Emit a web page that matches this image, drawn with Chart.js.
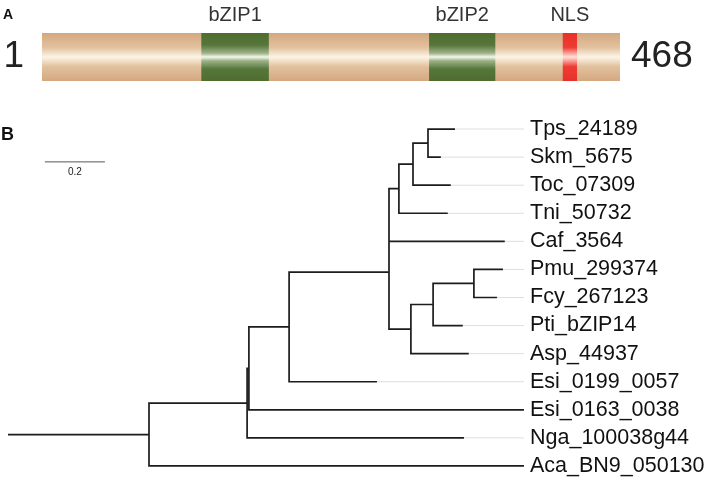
<!DOCTYPE html>
<html>
<head>
<meta charset="utf-8">
<script src="https://cdn.jsdelivr.net/npm/chart.js@4.4.1/dist/chart.umd.min.js"></script>
<style>
  html, body { margin: 0; padding: 0; background: #fff; }
  body { width: 709px; height: 480px; overflow: hidden; position: relative; }
  canvas { position: absolute; left: 0; }
  #domainChart { top: 0; }
  #treeChart { top: 100px; }
</style>
</head>
<body>
<canvas id="domainChart" width="709" height="100"></canvas>
<canvas id="treeChart" width="709" height="380"></canvas>
<script>
// Panel A: protein with domains (residue positions)
const residueStart = 1;
const proteinLength = 468;
const domainNames = ['bZIP1', 'bZIP2', 'NLS'];
const domainStarts = [130, 314, 422];
const domainEnds = [184, 367, 433];

// Panel B: tree, tips in drawing order (top to bottom)
const tipNames = ['Tps_24189', 'Skm_5675', 'Toc_07309', 'Tni_50732', 'Caf_3564', 'Pmu_299374',
  'Fcy_267123', 'Pti_bZIP14', 'Asp_44937', 'Esi_0199_0057', 'Esi_0163_0038', 'Nga_100038g44', 'Aca_BN9_050130'];
const tipParents = ['V', 'V', 'U', 'T', 'Q', 'F', 'F', 'E', 'D', 'N1', 'A', 'B', 'root'];
const tipLengths = [0.087, 0.04, 0.123, 0.16, 0.383, 0.094, 0.074, 0.096, 0.19, 0.29, 0.914, 0.72, 1.247];
// internal nodes, parents listed before children
const nodeIds = ['root', 'B', 'A', 'N1', 'P', 'Q', 'T', 'U', 'V', 'D', 'E', 'F'];
const nodeParents = [null, 'root', 'B', 'A', 'N1', 'P', 'Q', 'T', 'U', 'P', 'D', 'E'];
const nodeLengths = [0.47, 0.327, 0.006, 0.134, 0.333, 0, 0.033, 0.047, 0.05, 0.073, 0.074, 0.136];
const scaleBarLength = 0.2;

// styles
const labelFont = "'Liberation Sans', Arial, sans-serif";
const treeFont = "'Liberation Sans', Arial, sans-serif";
const tanStops = [[0, '#d3a880'], [0.3, '#e2c19e'], [0.5, '#fcf4e6'], [0.7, '#e2c19e'], [1, '#d3a880']];
const greenStops = [[0, '#506d2f'], [0.25, '#56763a'], [0.42, '#9db287'], [0.5, '#f5f7ee'], [0.58, '#9db287'], [0.75, '#56763a'], [1, '#506d2f']];
const redStops = [[0, '#e8302a'], [0.3, '#ee3d33'], [0.5, '#ffe0d9'], [0.7, '#ee3d33'], [1, '#e8302a']];
const domainStops = [greenStops, greenStops, redStops];

function bandGradient(chart, stops) {
    const area = chart.chartArea;
    if (!area) return stops[0][1];
    const g = chart.ctx.createLinearGradient(0, area.top, 0, area.bottom);
    stops.forEach(s => g.addColorStop(s[0], s[1]));
    return g;
}

function noPad(axis) {
    axis.paddingTop = 0; axis.paddingBottom = 0;
    axis.paddingLeft = 0; axis.paddingRight = 0;
}

const panelLetter = {
    id: 'panelLetter',
    afterDraw(chart, args, opts) {
        const ctx = chart.ctx;
        ctx.save();
        ctx.fillStyle = '#111';
        ctx.font = 'bold ' + opts.size + 'px ' + treeFont;
        ctx.textBaseline = 'middle';
        ctx.fillText(opts.text, opts.x, opts.y);
        ctx.restore();
    }
};

const bars = domainNames.map((name, i) => ({
    label: name,
    data: [[domainStarts[i], domainEnds[i]]],
    backgroundColor: c => bandGradient(c.chart, domainStops[i]),
    order: 0
}));
bars.push({
    label: 'protein',
    data: [[residueStart, proteinLength]],
    backgroundColor: c => bandGradient(c.chart, tanStops),
    order: 1
});
bars.forEach(b => {
    b.grouped = false;
    b.barPercentage = 1;
    b.categoryPercentage = 1;
    b.borderWidth = 0;
});

new Chart(document.getElementById('domainChart'), {
    type: 'bar',
    data: { labels: [String(residueStart)], datasets: bars },
    options: {
        indexAxis: 'y',
        responsive: false,
        animation: false,
        events: [],
        layout: { padding: { top: 0, bottom: 19, left: 0, right: 0 } },
        plugins: {
            legend: { display: false },
            tooltip: { enabled: false },
            panelLetter: { text: 'A', x: 3, y: 15, size: 14 }
        },
        scales: {
            x: {
                type: 'linear',
                position: 'top',
                min: residueStart,
                max: proteinLength,
                grid: { display: false, drawTicks: false },
                border: { display: false },
                afterBuildTicks: axis => {
                    axis.ticks = domainStarts.map((s, i) => ({ value: (s + domainEnds[i]) / 2 }));
                },
                afterFit: axis => { axis.height = 33; noPad(axis); },
                ticks: {
                    autoSkip: false,
                    maxRotation: 0,
                    padding: 6,
                    color: '#333',
                    font: { family: labelFont, size: 20 },
                    callback: (v, i) => domainNames[i]
                }
            },
            y: {
                type: 'category',
                position: 'left',
                offset: true,
                grid: { display: false, drawTicks: false },
                border: { display: false },
                afterFit: axis => { axis.width = 42; noPad(axis); },
                ticks: { padding: 18, color: '#222', font: { family: labelFont, size: 37 } }
            },
            y2: {
                type: 'category',
                position: 'right',
                labels: [String(proteinLength)],
                offset: true,
                grid: { display: false, drawTicks: false },
                border: { display: false },
                afterFit: axis => { axis.width = 89; noPad(axis); },
                ticks: { padding: 11, color: '#222', font: { family: labelFont, size: 37 } }
            }
        }
    },
    plugins: [panelLetter]
});

// tree layout from the arrays
const depth = {};
const row = {};
nodeIds.forEach((id, i) => {
    depth[id] = (nodeParents[i] ? depth[nodeParents[i]] : 0) + nodeLengths[i];
});
const tipDepths = tipNames.map((n, i) => depth[tipParents[i]] + tipLengths[i]);

function childRows(id) {
    const rows = [];
    tipParents.forEach((p, t) => { if (p === id) rows.push(t); });
    nodeParents.forEach((p, k) => { if (p === id) rows.push(row[nodeIds[k]]); });
    return rows;
}
for (let i = nodeIds.length - 1; i >= 0; i--) {
    const rows = childRows(nodeIds[i]);
    row[nodeIds[i]] = (Math.min(...rows) + Math.max(...rows)) / 2;
}

const branchPoints = [];
function segment(x1, y1, x2, y2) {
    branchPoints.push({ x: x1, y: y1 }, { x: x2, y: y2 }, { x: null, y: null });
}
nodeIds.forEach((id, i) => {
    const p = nodeParents[i];
    segment(p ? depth[p] : 0, row[id], depth[id], row[id]);
    const rows = childRows(id);
    segment(depth[id], Math.min(...rows), depth[id], Math.max(...rows));
});
tipNames.forEach((n, t) => segment(depth[tipParents[t]], t, tipDepths[t], t));

const xMax = 1.72;
const leaderPoints = [];
tipNames.forEach((n, t) => {
    leaderPoints.push({ x: tipDepths[t], y: t }, { x: xMax, y: t }, { x: null, y: null });
});

const scaleBarX = 0.123;
const scaleBarRow = 1.17;

const scaleBarLabel = {
    id: 'scaleBarLabel',
    afterDraw(chart) {
        const xs = chart.scales.x, ys = chart.scales.y;
        const ctx = chart.ctx;
        ctx.save();
        ctx.fillStyle = '#222';
        ctx.font = '10px ' + treeFont;
        ctx.textAlign = 'center';
        ctx.textBaseline = 'middle';
        ctx.fillText(String(scaleBarLength), xs.getPixelForValue(scaleBarX + scaleBarLength / 2),
            ys.getPixelForValue(scaleBarRow) + 10);
        ctx.restore();
    }
};

new Chart(document.getElementById('treeChart'), {
    type: 'scatter',
    data: {
        datasets: [{
            data: branchPoints,
            showLine: true,
            borderColor: '#1c1c1c',
            borderWidth: 1.7,
            borderCapStyle: 'square',
            pointRadius: 0,
            order: 0
        }, {
            data: leaderPoints,
            showLine: true,
            borderColor: '#dedede',
            borderWidth: 1,
            pointRadius: 0,
            order: 2
        }, {
            data: [{ x: scaleBarX, y: scaleBarRow }, { x: scaleBarX + scaleBarLength, y: scaleBarRow }],
            showLine: true,
            borderColor: '#555',
            borderWidth: 1,
            pointRadius: 0,
            order: 1
        }]
    },
    options: {
        responsive: false,
        animation: false,
        events: [],
        layout: { padding: { left: 8, top: 15, bottom: 0, right: 0 } },
        plugins: {
            legend: { display: false },
            tooltip: { enabled: false },
            panelLetter: { text: 'B', x: 1, y: 35, size: 18 }
        },
        scales: {
            x: { type: 'linear', display: false, min: 0, max: xMax },
            y: {
                type: 'linear',
                position: 'right',
                reverse: true,
                min: -0.5,
                max: tipNames.length - 0.5,
                grid: { display: false, drawTicks: false },
                border: { display: false },
                afterBuildTicks: axis => { axis.ticks = tipNames.map((n, i) => ({ value: i })); },
                afterFit: axis => { axis.width = 185; noPad(axis); },
                ticks: {
                    autoSkip: false,
                    padding: 6,
                    color: '#111',
                    font: { family: treeFont, size: 21.5 },
                    callback: (v, i) => tipNames[i]
                }
            }
        }
    },
    plugins: [panelLetter, scaleBarLabel]
});
</script>
</body>
</html>
